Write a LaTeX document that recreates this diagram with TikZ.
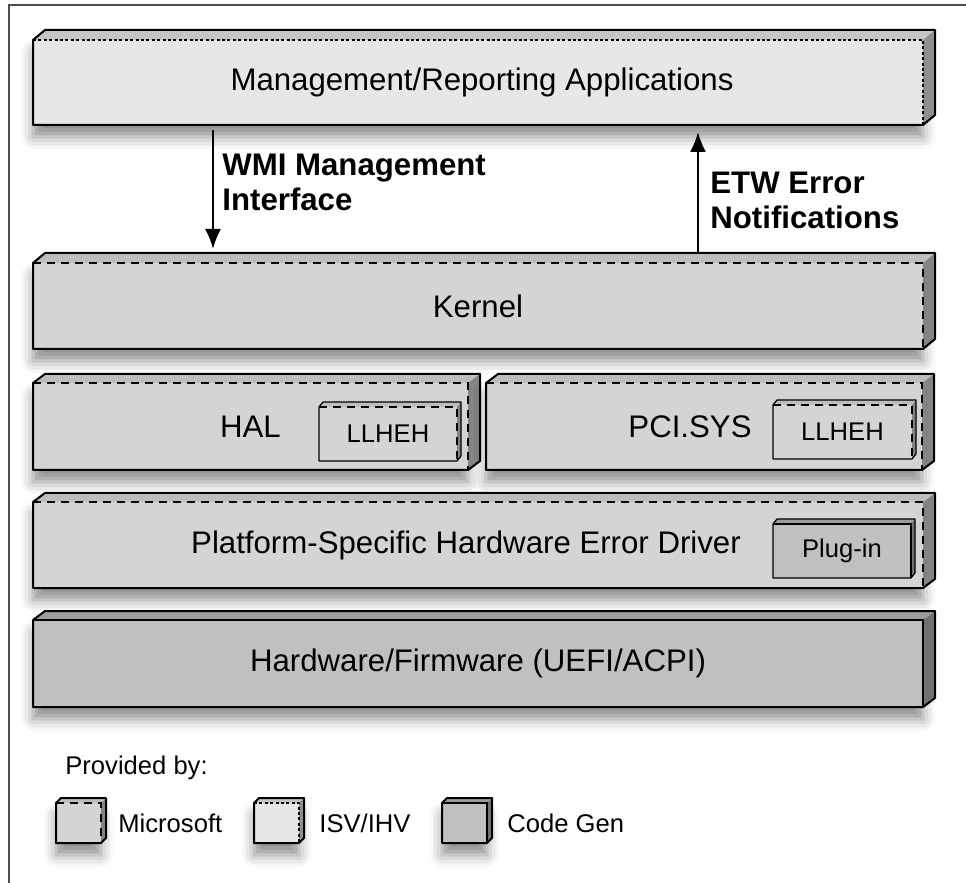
\documentclass[tikz,border=0pt]{standalone}
\usepackage{fontspec}
\setmainfont{Liberation Sans}
\usetikzlibrary{arrows.meta,calc,positioning,shadows.blur}
\definecolor{frame}{HTML}{4D4D4F}
\definecolor{isvface}{HTML}{E6E7E8}
\definecolor{isvtop}{HTML}{C4C5C7}
\definecolor{isvside}{HTML}{8E8F91}
\definecolor{msface}{HTML}{D3D4D6}
\definecolor{mstop}{HTML}{BCBDBF}
\definecolor{msside}{HTML}{838486}
\definecolor{cgface}{HTML}{BFC0C2}
\definecolor{cgtop}{HTML}{9C9D9F}
\definecolor{cgside}{HTML}{707173}
\tikzset{face/.style={inner sep=0pt,outer sep=0pt}, lifted/.style={blur shadow={shadow xshift=0pt,shadow yshift=-6pt,shadow blur radius=6pt,shadow opacity=45}},
isvbox/.style={face,fill=isvface}, msbox/.style={face,fill=msface}, cgbox/.style={face,fill=cgface},
isvedge/.style={line width=.6pt,dash pattern=on 1.5pt off 1.2pt}, msedge/.style={line width=.9pt,dash pattern=on 4pt off 3pt}, cgedge/.style={line width=1pt},
big/.style={font=\fontsize{15.6}{18}\selectfont}, small/.style={font=\fontsize{12.8}{15}\selectfont,inner sep=1pt},
bold/.style={font=\fontsize{15.6}{17.5}\selectfont\bfseries,align=left,inner sep=0pt},
flow/.style={-{Latex[length=10pt,width=8pt]},line width=1pt}}
% front face of a layer, corners in pixels
\newcommand{\slab}[7][]{\node[#3box,#1,minimum width={(#6-#4)*0.5pt},minimum height={(#7-#5)*0.5pt}] (#2) at ({(#4+#6)/2},{(#5+#7)/2}) {};}
% top and side faces
\newcommand{\rims}[5]{%
\fill[#2top] (#1.north west) -- ++(#3,-#4) -- ($(#1.north east)+(#3,-#4)$) -- (#1.north east) -- cycle;
\fill[#2side] (#1.north east) -- ++(#3,-#4) -- ($(#1.south east)+(#3,-#4)$) -- (#1.south east) -- cycle;
\draw[#2edge] (#1.north west) -- (#1.north east) -- (#1.south east);
\draw[line width=#5,line join=round] (#1.north west) -- ++(#3,-#4) -- ($(#1.north east)+(#3,-#4)$) -- ($(#1.south east)+(#3,-#4)$) -- (#1.south east) -- (#1.south west) -- cycle;}

\begin{document}
\begin{tikzpicture}[x=0.5pt,y=-0.5pt]
\useasboundingbox (0,0) rectangle (966,883);
\draw[frame,line width=.8pt] (9,883) -- (9,5) -- (966,5);
% layers
\slab[lifted]{mgmt}{isv}{33}{40}{923}{125} \rims{mgmt}{isv}{12}{10}{1pt}
\slab[lifted]{kernel}{ms}{33}{263}{923}{349} \rims{kernel}{ms}{12}{10}{1pt}
\slab[lifted]{hal}{ms}{33}{383}{468}{470} \rims{hal}{ms}{12}{9}{1pt}
\slab[lifted]{pci}{ms}{486}{383}{922}{470} \rims{pci}{ms}{12}{9}{1pt}
\slab{hallleh}{ms}{319}{407}{457}{461} \rims{hallleh}{ms}{4}{5}{.6pt}
\slab{pcilleh}{ms}{773}{405}{912}{459} \rims{pcilleh}{ms}{4}{5}{.6pt}
\slab[lifted]{platform}{ms}{33}{502}{923}{588} \rims{platform}{ms}{12}{9}{1pt}
\slab{plugin}{cg}{773}{524}{911}{578} \rims{plugin}{cg}{4}{5}{.6pt}
\slab[lifted]{hw}{cg}{33}{620}{923}{707} \rims{hw}{cg}{12}{9}{1pt}
\node[big] (mgmttext) at ([xshift=2pt]mgmt) {Management/Reporting Applications};
\node[big] (kerneltext) at (kernel) {Kernel};
\node[big] (haltext) at (hal) {HAL};
\node[big] (pcitext) at ([xshift=-7pt]pci) {PCI.SYS};
\node[small] (halllehtext) at (hallleh) {LLHEH};
\node[small] (pcillehtext) at (pcilleh) {LLHEH};
\node[big] (platformtext) at ([xshift=-6pt]platform) {Platform-Specific Hardware Error Driver};
\node[small] (plugintext) at (plugin) {Plug-in};
\node[big] (hwtext) at (hw) {Hardware/Firmware (UEFI/ACPI)};
% interfaces
\coordinate (wmi) at (213,0);
\coordinate (etw) at (698,0);
\draw[flow,shorten <=2.5pt,shorten >=7pt] (mgmt.south -| wmi) -- (kernel.north -| wmi);
\draw[flow,shorten <=5.5pt,shorten >=3.5pt] (kernel.north -| etw) -- (mgmt.south -| etw);
\node[bold,anchor=west] (wmilbl) at (222,182) {WMI Management\\Interface};
\node[bold,anchor=west] (etwlbl) at (710,200) {ETW Error\\Notifications};
% legend
\node[small,anchor=west] (provided) at (63,768) {Provided by:};
\slab[lifted]{legms}{ms}{56}{803}{101}{843} \rims{legms}{ms}{5}{5}{1pt}
\slab[lifted]{legisv}{isv}{254}{803}{299}{843} \rims{legisv}{isv}{5}{5}{1pt}
\slab[lifted]{legcg}{cg}{442}{803}{487}{843} \rims{legcg}{cg}{5}{5}{1pt}
\node[small,right=7.5pt of legms] (mstext) {Microsoft};
\node[small,right=9pt of legisv] (isvtext) {ISV/IHV};
\node[small,right=9pt of legcg] (cgtext) {Code Gen};
\end{tikzpicture}
\end{document}
